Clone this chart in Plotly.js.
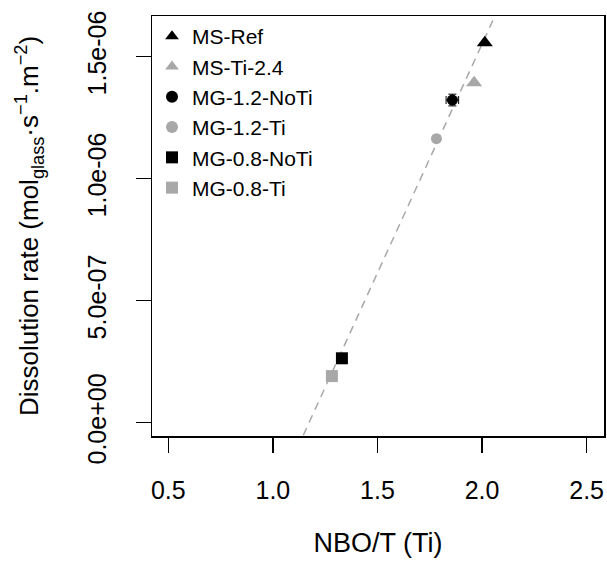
<!DOCTYPE html>
<html>
<head>
<meta charset="utf-8">
<script src="https://cdn.plot.ly/plotly-3.0.1.min.js"></script>
<style>html,body{margin:0;padding:0;background:#fff;}#chart{width:607px;height:563px;}</style>
</head>
<body>
<div id="chart"></div>
<script>
// ---- data ----
const seriesNames = ["MS-Ref", "MS-Ti-2.4", "MG-1.2-NoTi", "MG-1.2-Ti", "MG-0.8-NoTi", "MG-0.8-Ti"];
const nboT = [2.013, 1.962, 1.858, 1.782, 1.330, 1.282];
const dissolutionRate = [1.557e-6, 1.393e-6, 1.3225e-6, 1.164e-6, 0.264e-6, 0.191e-6];
const errNboT = [0, 0, 0.03, 0, 0, 0];
const errRate = [0, 0, 0.024e-6, 0, 0, 0];
const xTickVals = [0.5, 1.0, 1.5, 2.0, 2.5];
const xTickText = ["0.5", "1.0", "1.5", "2.0", "2.5"];
const yTickVals = [0, 5e-7, 1e-6, 1.5e-6];
const yTickText = ["0.0e+00", "5.0e-07", "1.0e-06", "1.5e-06"];
// linear fit (dashed line)
const fitSlope = 1.876e-6;
const fitIntercept = -2.2e-6;

// ---- styles ----
const BLACK = "#000000", GREY = "#A8A8A8";
const colors = [BLACK, GREY, BLACK, GREY, BLACK, GREY];
const symbols = ["triangle-up", "triangle-up", "circle", "circle", "square", "square"];
const sizes = [14, 14, 11, 11, 12, 12];
const xRange = [0.422, 2.583];
const yRange = [-0.0545e-6, 1.667e-6];
const FONT = "Liberation Sans, Arial, Helvetica, sans-serif";

const traces = [];
traces.push({
  x: xRange, y: xRange.map(v => fitIntercept + fitSlope * v),
  mode: "lines", type: "scatter", showlegend: false, hoverinfo: "skip",
  line: {color: GREY, width: 1.5, dash: "8px,6px"}
});
seriesNames.forEach((nm, i) => {
  const t = {
    x: [nboT[i]], y: [dissolutionRate[i]], name: nm, type: "scatter", mode: "markers",
    marker: {color: colors[i], symbol: symbols[i], size: sizes[i], line: {width: 0}}
  };
  if (errNboT[i] > 0) t.error_x = {type: "data", array: [errNboT[i]], color: colors[i], thickness: 1, width: 4};
  if (errRate[i] > 0) t.error_y = {type: "data", array: [errRate[i]], color: colors[i], thickness: 1, width: 4};
  traces.push(t);
});

const layout = {
  width: 607, height: 563,
  margin: {l: 152, r: 3, t: 16, b: 127},
  paper_bgcolor: "#fff", plot_bgcolor: "#fff",
  font: {family: FONT, color: "#000", size: 24},
  showlegend: true,
  legend: {x: 0, y: 1, xanchor: "left", yanchor: "top", bgcolor: "rgba(0,0,0,0)",
    font: {family: FONT, size: 21, color: "#000"}, itemsizing: "constant", tracegroupgap: 0},
  xaxis: {
    range: xRange, tickvals: xTickVals, ticktext: xTickText,
    ticks: "outside", ticklen: 15, tickwidth: 1.5, tickcolor: "#000",
    showline: true, mirror: true, linecolor: "#000", linewidth: 1.5,
    showgrid: false, zeroline: false, ticklabelstandoff: 16,
    tickfont: {family: FONT, size: 25},
    title: {text: "NBO/T (Ti)", font: {family: FONT, size: 27}, standoff: 30}
  },
  yaxis: {
    range: yRange, tickvals: yTickVals, ticktext: yTickText, tickangle: -90,
    ticks: "outside", ticklen: 15, tickwidth: 1.5, tickcolor: "#000",
    showline: true, mirror: true, linecolor: "#000", linewidth: 1.5,
    showgrid: false, zeroline: false, ticklabelstandoff: 20,
    tickfont: {family: FONT, size: 25},
    title: {text: "Dissolution rate (mol<sub>glass</sub>·s<sup>−1</sup>.m<sup>−2</sup>)", font: {family: FONT, size: 26}, standoff: 36}
  }
};

Plotly.newPlot("chart", traces, layout, {displayModeBar: false, staticPlot: true});
</script>
</body>
</html>
